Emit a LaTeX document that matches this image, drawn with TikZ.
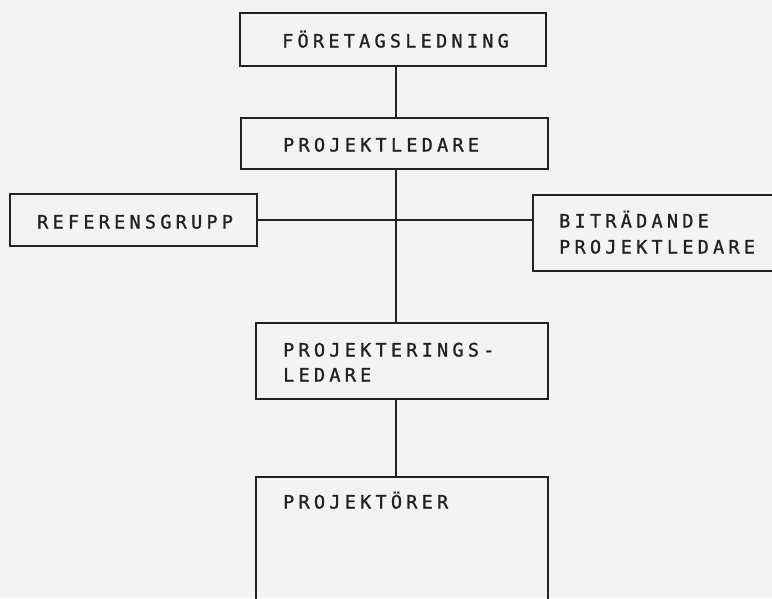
\documentclass[tikz,border=0pt]{standalone}
\usepackage{fontspec}
\newfontfamily\twfont{DejaVu Sans Mono}[LetterSpace=23,FakeBold=1.2]
\definecolor{paper}{HTML}{F3F3F1}
\definecolor{ink}{HTML}{222222}
\begin{document}
\begin{tikzpicture}[x=1pt,y=-1pt,
  box/.style={draw=ink,line width=1.7pt,inner sep=0pt},
  lbl/.style={font=\twfont\fontsize{18.5}{26}\selectfont,text=ink,inner sep=0pt,align=left},
  conn/.style={draw=ink,line width=1.7pt}]
\useasboundingbox (0,0) rectangle (772,598);
\fill[paper] (0,0) rectangle (772,598);
\clip (0,0) rectangle (772,598);
% boxes
\node[box,minimum width=306pt,minimum height=53pt] (ftg) at (393,39.5) {};
\node[box,minimum width=307pt,minimum height=51pt] (pl) at (394.5,143.5) {};
\node[box,minimum width=247pt,minimum height=52pt] (ref) at (133.5,220) {};
\node[box,minimum width=267pt,minimum height=76pt] (bit) at (666.5,233) {};
\node[box,minimum width=292pt,minimum height=76pt] (pgl) at (402,361) {};
\node[box,minimum width=292pt,minimum height=163pt] (pro) at (402,558.5) {};
% labels
\node[lbl,anchor=base west] (ftgt) at (282,47.5) {FÖRETAGSLEDNING};
\node[lbl,anchor=base west] (plt) at (283,151.5) {PROJEKTLEDARE};
\node[lbl,anchor=base west] (reft) at (37,228.5) {REFERENSGRUPP};
\node[lbl,anchor=base west] (bitt1) at (559,227.5) {BITRÄDANDE};
\node[lbl,anchor=base west] (bitt2) at (559,253.5) {PROJEKTLEDARE};
\node[lbl,anchor=base west] (pglt1) at (283,356.5) {PROJEKTERINGS-};
\node[lbl,anchor=base west] (pglt2) at (283,381.5) {LEDARE};
\node[lbl,anchor=base west] (prot) at (283,508.5) {PROJEKTÖRER};
% connectors
\coordinate (spine) at (396,0);
\draw[conn] (ftg.south -| spine) -- (pl.north -| spine);
\draw[conn] (pl.south -| spine) -- (pgl.north -| spine);
\draw[conn] (pgl.south -| spine) -- (pro.north -| spine);
\draw[conn] (ref.east) -- (ref.east -| bit.west);
\end{tikzpicture}
\end{document}
